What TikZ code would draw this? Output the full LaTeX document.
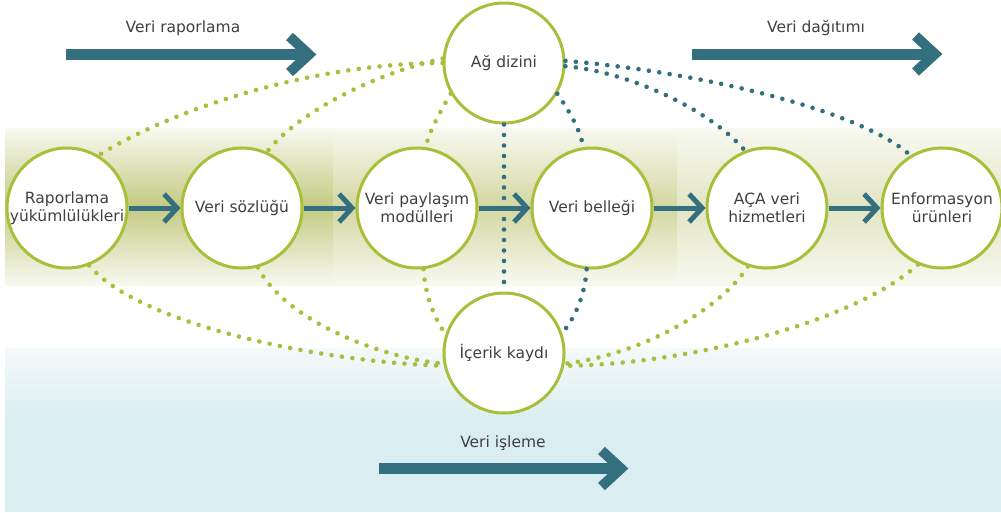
\documentclass[tikz,border=0pt]{standalone}
\usepackage{fontspec}
\setmainfont{DejaVu Sans}
\usetikzlibrary{arrows.meta}
\definecolor{teal1}{HTML}{346F80}
\definecolor{lime1}{HTML}{A9BF3B}
\definecolor{txt}{HTML}{404040}
\definecolor{olive1}{HTML}{C4CA82}
\definecolor{olive2}{HTML}{D3D7A0}
\definecolor{olive3}{HTML}{E2E5C3}
\definecolor{bandedge}{HTML}{F8F9F0}
\definecolor{cyan1}{HTML}{DAEEF1}
\definecolor{cyan0}{HTML}{F4F9FA}
\begin{document}
\begin{tikzpicture}[x=1pt,y=-1pt,
  proc/.style={circle, draw=lime1, line width=3pt, fill=white, minimum size=120pt,
    inner sep=0pt, align=center, font=\fontsize{15.5}{18}\selectfont, text=txt},
  flow/.style={draw=teal1, line width=5pt, -{Straight Barb[length=13pt, width=28pt, line join=miter]}},
  gdots/.style={draw=lime1, line width=4.6pt, line cap=round, dash pattern=on 0pt off 10.5pt},
  tdots/.style={gdots, draw=teal1},
  bigshaft/.style={draw=teal1, line width=11pt},
  bighead/.style={draw=teal1, line width=10pt, line join=miter, miter limit=10},
  lbl/.style={font=\fontsize{15.5}{18}\selectfont, text=txt, anchor=base},
]
\useasboundingbox (0,0) rectangle (1001,512);
% background
\fill[white] (0,0) rectangle (1001,512);
\shade[top color=cyan0, bottom color=cyan1] (5,348) rectangle (1001,420);
\fill[cyan1] (5,420) rectangle (1001,512);
\shade[top color=bandedge, bottom color=bandedge, middle color=olive1] (5,128) rectangle (333,285);
\shade[top color=bandedge, bottom color=bandedge, middle color=olive2] (333,128) rectangle (677,285);
\shade[top color=bandedge, bottom color=bandedge, middle color=olive3] (677,128) rectangle (1001,285);

% nodes
\node[proc] (R) at (67,208) {Raporlama\\yükümlülükleri};
\node[proc] (S) at (242,208) {Veri sözlüğü};
\node[proc] (P) at (417,208) {Veri paylaşım\\modülleri};
\node[proc] (B) at (592,208) {Veri belleği};
\node[proc] (A) at (767,208) {AÇA veri\\hizmetleri};
\node[proc] (E) at (942,208) {Enformasyon\\ürünleri};
\node[proc] (D) at (504,63) {Ağ dizini};
\node[proc] (K) at (504,353) {İçerik kaydı};

% flow arrows
\draw[flow] (R) -- (S);
\draw[flow] (S) -- (P);
\draw[flow] (P) -- (B);
\draw[flow] (B) -- (A);
\draw[flow] (A) -- (E);

% dotted links, top
\draw[gdots] (D.180) .. controls (320,63) and (180,105) .. (R.59);
\draw[gdots] (D.176) .. controls (380,72) and (300,110) .. (S.66);
\draw[gdots] (D.210) .. controls (440,112) and (430,130) .. (P.82);
\draw[tdots] (D.270) -- (K.90);
\draw[tdots] (D.330) .. controls (570,112) and (580,130) .. (B.98);
\draw[tdots] (D.357) .. controls (630,72) and (710,110) .. (A.111);
\draw[tdots] (D.2) .. controls (700,72) and (860,110) .. (E.121);
% dotted links, bottom
\draw[gdots] (R.291) .. controls (140,325) and (320,362) .. (K.192);
\draw[gdots] (S.285) .. controls (285,320) and (380,358) .. (K.190);
\draw[gdots] (P.276) .. controls (425,295) and (435,320) .. (K.162);
\draw[tdots] (B.265) .. controls (585,295) and (575,318) .. (K.19);
\draw[gdots] (A.252) .. controls (720,310) and (640,355) .. (K.350);
\draw[gdots] (E.247) .. controls (850,325) and (680,365) .. (K.348);

% big phase arrows
\coordinate (r0) at (66,54.5);  \coordinate (r1) at (316,54.5);
\coordinate (d0) at (692,54);   \coordinate (d1) at (942,54);
\coordinate (i0) at (379,468.5); \coordinate (i1) at (628,468.5);
\foreach \a/\b in {r0/r1, d0/d1, i0/i1}{
  \draw[bigshaft] (\a) -- ([xshift=-8]\b);
  \draw[bighead] ([shift={(-26.5,-18)}]\b) -- ([xshift=-7]\b) -- ([shift={(-26.5,18)}]\b);
}
\node[lbl] (lr) at (183,32) {Veri raporlama};
\node[lbl] (ld) at (816,32) {Veri dağıtımı};
\node[lbl] (li) at (503,447) {Veri işleme};
\end{tikzpicture}
\end{document}
